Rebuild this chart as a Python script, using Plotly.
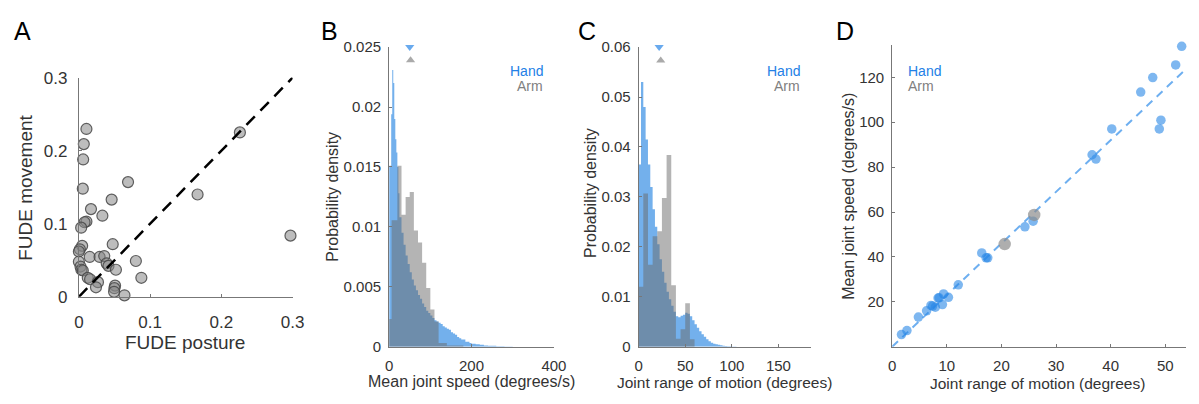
import plotly.graph_objects as go

W, H = 1199, 404
FONT = "Liberation Sans, Arial, Helvetica, sans-serif"
TXT = "#333333"
AXC = "#777777"

# ---------------- Panel A data ----------------
fude_posture = [0.0106, 0.0069, 0.006, 0.0055, 0.0106, 0.008, 0.0032, 0.0046, 0.0014, 0.0,
                0.017, 0.033, 0.046, 0.069, 0.1666, 0.226, 0.297, 0.0475, 0.0152, 0.0291,
                0.0356, 0.039, 0.0415, 0.052, 0.080, 0.0877, 0.0, 0.0023, 0.0035, 0.0055,
                0.0125, 0.0157, 0.0268, 0.024, 0.0508, 0.0499, 0.0494, 0.0640]
fude_movement = [0.2297, 0.209, 0.188, 0.148, 0.103, 0.102, 0.0946, 0.0697, 0.065, 0.062,
                 0.120, 0.111, 0.133, 0.157, 0.140, 0.225, 0.0837, 0.072, 0.0545, 0.0545,
                 0.0558, 0.0458, 0.0423, 0.037, 0.049, 0.026, 0.048, 0.0414, 0.037, 0.036,
                 0.026, 0.024, 0.020, 0.013, 0.0153, 0.0118, 0.0068, 0.002]
identity_x = [0, 0.3]
identity_y = [0, 0.3]

# ---------------- Panel B data (mean joint speed) ----------------
hand_speed_edges = [0, 2.5, 5, 7.5, 10, 12.5, 15, 17.5, 20, 22.5, 25,
                    30, 35, 40, 45, 50, 55, 60, 65, 70, 75, 80, 85, 90, 95, 100,
                    105, 110, 115, 120, 125, 130, 135, 140, 145, 150, 155, 160, 165,
                    170, 175, 180, 185, 190, 195, 200, 210, 220, 230, 240, 260, 280, 300]
hand_speed_density = [0.0151, 0.0151, 0.0194, 0.0231, 0.0220, 0.0190, 0.0173, 0.0162, 0.0150, 0.0128,
                      0.0108, 0.0095, 0.0085, 0.0076, 0.0069, 0.0062, 0.0056, 0.0051, 0.0047, 0.0043,
                      0.0040, 0.0036, 0.0033, 0.0030, 0.0028, 0.0026, 0.0024, 0.0022, 0.0021, 0.0020,
                      0.0019, 0.0017, 0.0016, 0.0015, 0.0014, 0.0012, 0.0011, 0.0010, 0.0008, 0.0007,
                      0.0006, 0.0006, 0.0004, 0.0004, 0.0003,
                      0.00025, 0.0002, 0.00015, 0.0001, 0.00007, 0.00004, 0.00002]
arm_speed_edges = [0, 6, 20, 30, 40, 50, 60, 70, 80, 90, 100, 110, 120, 140, 170, 180]
arm_speed_density = [0.0023, 0.01055, 0.0151, 0.0110, 0.0125, 0.0129, 0.0097, 0.0087, 0.0070,
                     0.0049, 0.0031, 0.0021, 0.0003, 0.0001, 0.0001]
hand_speed_mean = [50]
hand_speed_mark = [0.025]
arm_speed_mean = [52]
arm_speed_mark = [0.0239]

# ---------------- Panel C data (joint range of motion) ----------------
hand_rom_edges = [0, 2.5, 5, 7.5, 10, 12.5, 15, 17.5, 20, 22.5, 25, 27.5, 30, 32.5, 35, 37.5,
                  40, 42.5, 45, 47.5, 50, 52.5, 55, 57.5, 60, 62.5, 65, 67.5, 70, 72.5, 75,
                  77.5, 80, 82.5, 85, 87.5, 90, 92.5, 95, 97.5, 100, 105]
hand_rom_density = [0.0365, 0.0530, 0.0480, 0.0415, 0.0365, 0.0320, 0.0275, 0.0240, 0.0205, 0.0175,
                    0.0150, 0.0128, 0.0110, 0.0095, 0.0082, 0.0070, 0.0061, 0.0059, 0.0062, 0.0064,
                    0.0068, 0.0066, 0.0061, 0.0053, 0.0045, 0.0038, 0.0031, 0.0025, 0.0020, 0.0015,
                    0.0011, 0.0008, 0.0006, 0.0005, 0.0004, 0.0003, 0.0002, 0.00015, 0.0001, 0.00007,
                    0.00003]
arm_rom_edges = [0, 5, 10, 15, 20, 25, 30, 35, 40, 45, 50, 55, 60]
arm_rom_density = [0.012, 0.0307, 0.0164, 0.0221, 0.0231, 0.0298, 0.0384, 0.0123,
                   0.0016, 0.0035, 0.0087, 0.0015]
hand_rom_mean = [22]
hand_rom_mark = [0.06]
arm_rom_mean = [23.7]
arm_rom_mark = [0.0573]

# ---------------- Panel D data ----------------
rom_hand = [1.7, 2.7, 4.8, 6.3, 7.1, 7.4, 7.9, 8.4, 8.6, 9.2, 9.4, 10.3, 12.1, 16.4, 17.2, 17.5,
            24.3, 25.8, 36.6, 37.3, 40.2, 45.5, 47.7, 51.9, 49.2, 48.9, 53.0]
speed_hand = [5.4, 7.2, 13.2, 16.0, 18.4, 18.1, 17.6, 21.7, 21.8, 18.8, 23.5, 22.0, 27.6, 41.8, 39.6, 39.6,
              53.4, 55.9, 85.5, 83.6, 97.0, 113.4, 119.9, 125.5, 100.9, 97.0, 133.8]
rom_arm = [20.6, 26.0]
speed_arm = [45.7, 58.7]
fit_x = [0, 53.7]
fit_y = [0, 123.5]

HAND_FILL = "rgb(115,176,236)"
ARM_FILL = "rgba(105,105,105,0.5)"
HAND_TXT = "rgb(35,128,230)"
ARM_TXT = "rgb(128,128,128)"


def hist_trace(edges, dens, color, xa, ya):
    # step outline of the histogram, filled down to zero
    ys = list(dens) + [dens[-1]]
    return go.Scatter(x=edges, y=ys, mode="lines", line=dict(width=0, shape="hv"),
                      fill="tozeroy", fillcolor=color, xaxis=xa, yaxis=ya,
                      showlegend=False, hoverinfo="skip")


fig = go.Figure()

# Panel A
fig.add_trace(go.Scatter(x=fude_posture, y=fude_movement, mode="markers", xaxis="x", yaxis="y",
                         marker=dict(size=11, color="rgba(135,135,135,0.55)",
                                     line=dict(color="rgba(70,70,70,0.85)", width=1.2)),
                         cliponaxis=False, showlegend=False))
fig.add_trace(go.Scatter(x=identity_x, y=identity_y, mode="lines", xaxis="x", yaxis="y",
                         line=dict(color="black", width=2.5, dash="12px,8px"),
                         showlegend=False, hoverinfo="skip"))

# Panel B
fig.add_trace(hist_trace(hand_speed_edges, hand_speed_density, HAND_FILL, "x2", "y2"))
fig.add_trace(hist_trace(arm_speed_edges, arm_speed_density, ARM_FILL, "x2", "y2"))
fig.add_trace(go.Scatter(x=hand_speed_mean, y=hand_speed_mark, mode="markers", xaxis="x2", yaxis="y2",
                         marker=dict(symbol="triangle-down", size=8, color="rgb(105,170,238)"),
                         cliponaxis=False, showlegend=False))
fig.add_trace(go.Scatter(x=arm_speed_mean, y=arm_speed_mark, mode="markers", xaxis="x2", yaxis="y2",
                         marker=dict(symbol="triangle-up", size=8, color="rgb(170,170,170)"),
                         cliponaxis=False, showlegend=False))

# Panel C
fig.add_trace(hist_trace(hand_rom_edges, hand_rom_density, HAND_FILL, "x3", "y3"))
fig.add_trace(hist_trace(arm_rom_edges, arm_rom_density, ARM_FILL, "x3", "y3"))
fig.add_trace(go.Scatter(x=hand_rom_mean, y=hand_rom_mark, mode="markers", xaxis="x3", yaxis="y3",
                         marker=dict(symbol="triangle-down", size=8, color="rgb(105,170,238)"),
                         cliponaxis=False, showlegend=False))
fig.add_trace(go.Scatter(x=arm_rom_mean, y=arm_rom_mark, mode="markers", xaxis="x3", yaxis="y3",
                         marker=dict(symbol="triangle-up", size=8, color="rgb(170,170,170)"),
                         cliponaxis=False, showlegend=False))

# Panel D
fig.add_trace(go.Scatter(x=fit_x, y=fit_y, mode="lines", xaxis="x4", yaxis="y4",
                         line=dict(color="rgb(110,175,240)", width=2, dash="8px,6px"),
                         showlegend=False, hoverinfo="skip"))
fig.add_trace(go.Scatter(x=rom_hand, y=speed_hand, mode="markers", xaxis="x4", yaxis="y4",
                         marker=dict(size=9.5, color="rgba(40,135,230,0.6)", line=dict(width=0)),
                         cliponaxis=False, showlegend=False))
fig.add_trace(go.Scatter(x=rom_arm, y=speed_arm, mode="markers", xaxis="x4", yaxis="y4",
                         marker=dict(size=12.5, color="rgba(140,140,140,0.7)", line=dict(width=0)),
                         cliponaxis=False, showlegend=False))


def ax(domain, rng, tickvals, ticktext, anchor, size=15, standoff=None):
    d = dict(domain=domain, range=rng, tickvals=tickvals, ticktext=ticktext, anchor=anchor,
             showline=True, linecolor=AXC, linewidth=1, ticks="inside", ticklen=3,
             tickcolor=AXC, tickwidth=1, showgrid=False, zeroline=False, fixedrange=True,
             tickfont=dict(family=FONT, size=size, color=TXT))
    if standoff is not None:
        d["ticklabelstandoff"] = standoff
    return d


def px(x):
    return x / W


def py(y):
    return 1 - y / H


fig.update_layout(
    width=W, height=H, margin=dict(l=0, r=0, t=0, b=0, pad=0), autosize=False,
    paper_bgcolor="white", plot_bgcolor="white",
    font=dict(family=FONT, color=TXT),
    xaxis=ax([px(75), px(292)], [0, 0.3], [0, 0.1, 0.2, 0.3], ["0", "0.1", "0.2", "0.3"], "y", 17, 10),
    yaxis=ax([py(302), py(72)], [0, 0.3], [0, 0.1, 0.2, 0.3], ["0", "0.1", "0.2", "0.3"], "x", 17, 7),
    xaxis2=ax([px(390), px(557.3)], [0, 400], [0, 200, 400], ["0", "200", "400"], "y2", 15, 5),
    yaxis2=ax([py(354.3), py(40)], [0, 0.025], [0, 0.005, 0.01, 0.015, 0.02, 0.025],
              ["0", "0.005", "0.01", "0.015", "0.02", "0.025"], "x2", 15, 4),
    xaxis3=ax([px(643.3), px(818.3)], [0, 185], [0, 50, 100, 150], ["0", "50", "100", "150"], "y3", 15, 5),
    yaxis3=ax([py(354.3), py(40)], [0, 0.06], [0, 0.01, 0.02, 0.03, 0.04, 0.05, 0.06],
              ["0", "0.01", "0.02", "0.03", "0.04", "0.05", "0.06"], "x3", 15, 4),
    xaxis4=ax([px(900.7), px(1198.5)], [0, 53.7], [0, 10, 20, 30, 40, 50],
              ["0", "10", "20", "30", "40", "50"], "y4", 15, 5),
    yaxis4=ax([py(354.4), py(37.5)], [0, 134.5], [20, 40, 60, 80, 100, 120],
              ["20", "40", "60", "80", "100", "120"], "x4", 15, 4),
)

ann = []


def add_text(text, x, y, size, color=TXT, angle=0, xanchor="center"):
    ann.append(dict(text=text, x=px(x), y=py(y), xref="paper", yref="paper", showarrow=False,
                    textangle=angle, xanchor=xanchor, yanchor="middle",
                    font=dict(family=FONT, size=size, color=color)))


# Panel letters
add_text("A", 17.5, 23.5, 25, "black")
add_text("B", 329, 23.5, 25, "black")
add_text("C", 591, 23.5, 25, "black")
add_text("D", 853, 23.5, 25, "black")

# Axis titles
add_text("FUDE posture", 182.5, 350, 19)
add_text("FUDE movement", 20, 188, 19, angle=-90)
add_text("Mean joint speed (degrees/s)", 474, 391, 16)
add_text("Probability density", 333, 197, 16, angle=-90)
add_text("Joint range of motion (degrees)", 730, 392, 15.5)
add_text("Probability density", 595, 193, 16, angle=-90)
add_text("Joint range of motion (degrees)", 1048, 393, 15.5)
add_text("Mean joint speed (degrees/s)", 857, 197, 16, angle=-90)

# Legend texts
add_text("Hand", 548, 65, 14, HAND_TXT, xanchor="right")
add_text("Arm", 548, 81, 14, ARM_TXT, xanchor="right")
add_text("Hand", 809, 65, 14, HAND_TXT, xanchor="right")
add_text("Arm", 809, 81, 14, ARM_TXT, xanchor="right")
add_text("Hand", 915, 65, 14, HAND_TXT, xanchor="left")
add_text("Arm", 915, 81, 14, ARM_TXT, xanchor="left")

fig.update_layout(annotations=ann)
fig.write_html("out.html", config={"displayModeBar": False, "staticPlot": True},
               post_script="document.body.style.margin='0';document.body.style.padding='0';"
                           "document.body.style.overflow='hidden';")
